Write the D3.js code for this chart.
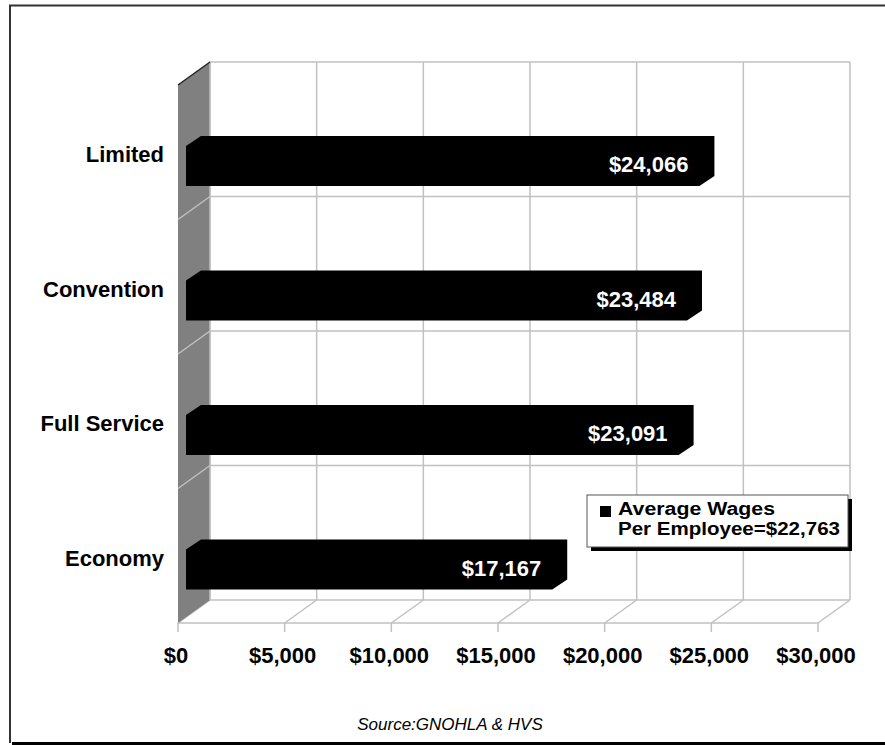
<!DOCTYPE html>
<html>
<head>
<meta charset="utf-8">
<script src="https://cdn.jsdelivr.net/npm/d3@7"></script>
<style>
  html, body { margin: 0; padding: 0; background: #fff; }
  svg { display: block; }
  text { font-family: "Liberation Sans", Arial, Helvetica, sans-serif; }
</style>
</head>
<body>
<script>
// Average wages per employee by hotel type
const categories = ["Limited", "Convention", "Full Service", "Economy"];
const wages = [24066, 23484, 23091, 17167];
const tickValues = [0, 5000, 10000, 15000, 20000, 25000, 30000];
const averageWage = 22763;
const legendLines = ["Average Wages", "Per Employee=" + d3.format("$,")(averageWage)];
const sourceText = "Source:GNOHLA & HVS";

const W = 885, H = 745;
const svg = d3.select("body").append("svg").attr("width", W).attr("height", H);

// Plot geometry (front plane + depth offset for the 3D box)
const front = { x: 178, top: 85, floor: 623 };
const depth = { dx: 32, dy: -23 };
const gridColor = "#c0c0c0";

const x = d3.scaleLinear().domain([0, 30000]).range([0, 640]);
const y = d3.scaleBand().domain(categories).range([front.top, front.floor]).paddingInner(0).paddingOuter(0);

// Outer frame
svg.append("line").attr("x1", 9).attr("x2", W).attr("y1", 5.5).attr("y2", 5.5)
  .attr("stroke", "#333").attr("stroke-width", 2);
svg.append("line").attr("x1", 10).attr("x2", 10).attr("y1", 5).attr("y2", 743)
  .attr("stroke", "#333").attr("stroke-width", 2);
svg.append("line").attr("x1", 12).attr("x2", W).attr("y1", 743.5).attr("y2", 743.5)
  .attr("stroke", "#000").attr("stroke-width", 3);

const g = svg.append("g");
const bx = front.x + depth.dx, btop = front.top + depth.dy, bfloor = front.floor + depth.dy;

// Back wall: vertical gridlines
g.selectAll("line.vgrid").data(tickValues).join("line")
  .attr("class", "vgrid")
  .attr("x1", d => bx + x(d)).attr("x2", d => bx + x(d))
  .attr("y1", btop).attr("y2", bfloor)
  .attr("stroke", gridColor).attr("stroke-width", 1.5);

// Back wall: horizontal gridlines at category boundaries
const bounds = d3.range(categories.length + 1);
const backY = i => btop + i * (bfloor - btop) / categories.length;
const frontY = i => front.top + i * (front.floor - front.top) / categories.length;
g.selectAll("line.hgrid").data(bounds).join("line")
  .attr("class", "hgrid")
  .attr("x1", bx).attr("x2", bx + x(30000))
  .attr("y1", d => backY(d)).attr("y2", d => backY(d))
  .attr("stroke", gridColor).attr("stroke-width", 1.5);

// Floor: front edge and depth lines at each tick
g.append("line")
  .attr("x1", front.x).attr("x2", front.x + x(30000))
  .attr("y1", front.floor).attr("y2", front.floor)
  .attr("stroke", gridColor).attr("stroke-width", 1.5);
g.selectAll("line.floor").data(tickValues).join("line")
  .attr("class", "floor")
  .attr("x1", d => front.x + x(d)).attr("x2", d => bx + x(d))
  .attr("y1", front.floor).attr("y2", bfloor)
  .attr("stroke", gridColor).attr("stroke-width", 1.5);
g.selectAll("line.tick").data(tickValues).join("line")
  .attr("class", "tick")
  .attr("x1", d => front.x + x(d)).attr("x2", d => front.x + x(d))
  .attr("y1", front.floor).attr("y2", front.floor + 9)
  .attr("stroke", gridColor).attr("stroke-width", 1.5);

// Side wall
g.append("polygon")
  .attr("points", [[front.x, front.top], [bx, btop], [bx, bfloor], [front.x, front.floor]].map(p => p.join(",")).join(" "))
  .attr("fill", "#808080");
g.selectAll("line.side").data(bounds.slice(1, -1)).join("line")
  .attr("class", "side")
  .attr("x1", front.x).attr("y1", d => frontY(d))
  .attr("x2", bx).attr("y2", d => backY(d))
  .attr("stroke", gridColor).attr("stroke-width", 1.5);
g.append("line").attr("x1", bx).attr("x2", bx).attr("y1", btop).attr("y2", bfloor)
  .attr("stroke", gridColor).attr("stroke-width", 1.5);
g.append("line").attr("x1", front.x).attr("y1", front.top).attr("x2", bx).attr("y2", btop)
  .attr("stroke", "#222").attr("stroke-width", 1.5);

// Bars (3D boxes, all faces black)
const bar = { x0: front.x + 8, offset: 61, h: 40, dx: 15, dy: -10 };
const bars = categories.map((c, i) => ({ c, v: wages[i] }));
g.selectAll("polygon.bar").data(bars).join("polygon")
  .attr("class", "bar")
  .attr("fill", "#000")
  .attr("points", d => {
    const t = y(d.c) + bar.offset, b = t + bar.h, xe = bar.x0 + x(d.v);
    return [[bar.x0, b], [bar.x0, t], [bar.x0 + bar.dx, t + bar.dy], [xe + bar.dx, t + bar.dy],
            [xe + bar.dx, b + bar.dy], [xe, b]].map(p => p.join(",")).join(" ");
  });

// Value labels
g.selectAll("text.value").data(bars).join("text")
  .attr("class", "value")
  .attr("x", d => bar.x0 + x(d.v) - 11)
  .attr("y", d => y(d.c) + bar.offset + 26)
  .attr("text-anchor", "end")
  .attr("fill", "#fff").attr("font-weight", "bold").attr("font-size", 22)
  .text(d => d3.format("$,")(d.v));

// Category labels
g.selectAll("text.cat").data(categories).join("text")
  .attr("class", "cat")
  .attr("x", 164).attr("y", d => y(d) + 77)
  .attr("text-anchor", "end")
  .attr("font-weight", "bold").attr("font-size", 22).attr("fill", "#000")
  .text(d => d);

// X tick labels
g.selectAll("text.xlab").data(tickValues).join("text")
  .attr("class", "xlab")
  .attr("x", d => front.x + x(d) - 2).attr("y", 663)
  .attr("text-anchor", "middle")
  .attr("font-weight", "bold").attr("font-size", 22).attr("fill", "#000")
  .text(d => d3.format("$,")(d));

// Legend
const lg = svg.append("g").attr("transform", "translate(587,495)");
lg.append("rect").attr("x", 4).attr("y", 4).attr("width", 261).attr("height", 52).attr("fill", "#000");
lg.append("rect").attr("x", 0).attr("y", 0).attr("width", 261).attr("height", 52)
  .attr("fill", "#fff").attr("stroke", "#555").attr("stroke-width", 1);
lg.append("rect").attr("x", 13).attr("y", 11).attr("width", 11).attr("height", 11).attr("fill", "#000");
const lens = [157, 222];
lg.selectAll("text").data(legendLines).join("text")
  .attr("x", 31).attr("y", (d, i) => 20 + i * 20)
  .attr("font-weight", "bold").attr("font-size", 18).attr("fill", "#000")
  .attr("textLength", (d, i) => lens[i]).attr("lengthAdjust", "spacingAndGlyphs")
  .text(d => d);

// Source note
svg.append("text")
  .attr("x", 450).attr("y", 730)
  .attr("text-anchor", "middle")
  .attr("font-style", "italic").attr("font-size", 17).attr("fill", "#000")
  .text(sourceText);
</script>
</body>
</html>
